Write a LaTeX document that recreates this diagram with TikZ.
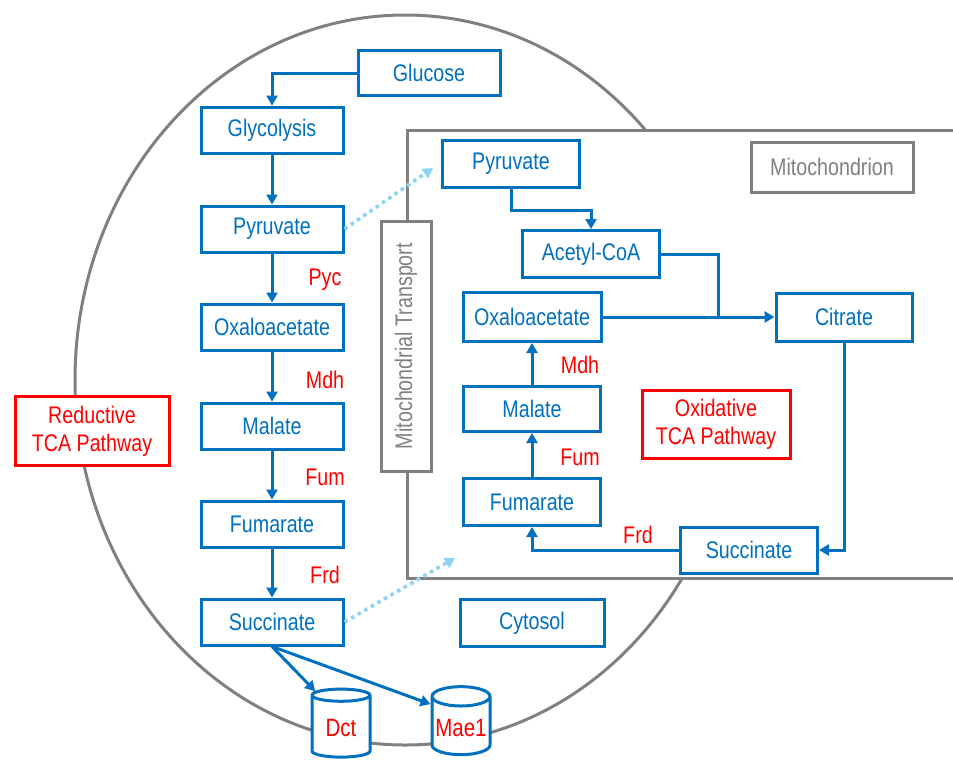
\documentclass[tikz,border=0pt]{standalone}
\usepackage{fontspec}
\setmainfont{Liberation Sans}[FakeStretch=0.82]
\usetikzlibrary{arrows.meta,shapes.geometric,calc}
\definecolor{flow}{HTML}{0070C0}
\definecolor{enz}{HTML}{FF0000}
\definecolor{wall}{HTML}{808080}
\definecolor{shuttle}{HTML}{8DD3F5}
\tikzset{
  base/.style={align=center, inner sep=2pt, font=\fontsize{12}{14}\selectfont, line width=1.5pt, fill=white},
  met/.style={base, draw=flow, text=flow},
  tag/.style={base, draw=enz, text=enz},
  comp/.style={base, draw=wall, text=wall},
  enzlab/.style={font=\fontsize{12}{14}\selectfont, text=enz},
  carrier/.style={cylinder, shape border rotate=90, aspect=0.35, draw=flow, fill=white, line width=1.5pt, text=enz, font=\fontsize{12.5}{14}\selectfont, minimum width=29pt, minimum height=34pt, inner sep=1pt},
  arr/.style={-{Triangle[length=5pt,width=5.5pt]}, line width=1.5pt, draw=flow},
  link/.style={line width=1.5pt, draw=flow},
  dots/.style={-{Triangle[length=5pt,width=5.5pt]}, line width=1.8pt, draw=shuttle, dash pattern=on 1.8pt off 2pt},
}
\begin{document}
\begin{tikzpicture}[x=0.5pt,y=-0.5pt]
        \useasboundingbox (0,0) rectangle (953,767);
        % cell and compartments
        \draw[wall, line width=1.5pt] (405,380) ellipse [x radius=330, y radius=365];
        \draw[wall, line width=1.5pt, fill=white] (965,130) -- (407,130) -- (407,578) -- (965,578);
        \node[comp, minimum width=25pt, minimum height=125pt] (trans) at (406,346) {};
        \node[text=wall, rotate=90, font=\fontsize{12}{14}\selectfont] (translab) at (trans.center) {Mitochondrial Transport};
        \node[comp, minimum width=81pt, minimum height=25pt] (mito) at (832,167) {Mitochondrion};
        % cytosol
        \node[met, minimum width=71pt, minimum height=22.5pt] (glc) at (429,73) {Glucose};
        \node[met, minimum width=71pt, minimum height=23pt] (gly) at (272,130) {Glycolysis};
        \node[met, minimum width=71pt, minimum height=23pt] (pyr) at (272,229) {Pyruvate};
        \node[met, minimum width=71pt, minimum height=23pt] (oaa) at (272,327) {Oxaloacetate};
        \node[met, minimum width=71pt, minimum height=23pt] (mal) at (272,426) {Malate};
        \node[met, minimum width=71pt, minimum height=23pt] (fum) at (272,524) {Fumarate};
        \node[met, minimum width=71pt, minimum height=23pt] (suc) at (272,622) {Succinate};
        \node[met, minimum width=72pt, minimum height=23.5pt] (cyto) at (532,623) {Cytosol};
        \node[tag, minimum width=77pt, minimum height=34.5pt] (redtca) at (92,431) {Reductive\\TCA Pathway};
        \node[carrier] (dct) at (341,728) {Dct};
        \node[carrier] (mae) at (461,728) {Mae1};
        \node[enzlab] (pyc) at (325,280) {Pyc};
        \node[enzlab] (mdh) at (325,380) {Mdh};
        \node[enzlab] (fumase) at (325,477) {Fum};
        \node[enzlab] (frd) at (325,575) {Frd};
        % mitochondrion
        \node[met, minimum width=68.5pt, minimum height=23.5pt] (mpyr) at (511,164) {Pyruvate};
        \node[met, minimum width=68.5pt, minimum height=23.5pt] (macc) at (591,254) {Acetyl-CoA};
        \node[met, minimum width=69pt, minimum height=24.5pt] (moaa) at (532,317) {Oxaloacetate};
        \node[met, minimum width=68pt, minimum height=24pt] (mcit) at (844,317) {Citrate};
        \node[met, minimum width=68.5pt, minimum height=22.5pt] (mmal) at (532,409) {Malate};
        \node[met, minimum width=68.5pt, minimum height=23.5pt] (mfum) at (532,502) {Fumarate};
        \node[met, minimum width=68.5pt, minimum height=23pt] (msuc) at (749,550) {Succinate};
        \node[tag, minimum width=74pt, minimum height=34pt] (oxtca) at (716,424) {Oxidative\\TCA Pathway};
        \node[enzlab] (mmdh) at (580,365) {Mdh};
        \node[enzlab] (mfumase) at (580,457) {Fum};
        \node[enzlab] (mfrd) at (638,535) {Frd};
        \coordinate (join) at (718,317);
        \coordinate (pyrin) at (433,168);
        \coordinate (sucin) at (455,558);
        % reductive branch
        \draw[arr] (glc.west) -| (gly.north);
        \draw[arr] (gly) -- (pyr);
        \draw[arr] (pyr) -- (oaa);
        \draw[arr] (oaa) -- (mal);
        \draw[arr] (mal) -- (fum);
        \draw[arr] (fum) -- (suc);
        \draw[arr] (suc.south) -- (dct.125);
        \draw[arr] (suc.south) -- (mae.142);
        \draw[dots] (pyr.east) -- (pyrin);
        \draw[dots] (suc.east) -- (sucin);
        % oxidative branch
        \draw[arr] (mpyr.south) -- ++(0,21) -| (macc.north);
        \draw[link] (macc.east) -| (join);
        \draw[arr] (moaa.east) -- (mcit.west);
        \draw[arr] (mcit.south) |- (msuc.east);
        \draw[arr] (msuc.west) -| (mfum.south);
        \draw[arr] (mfum) -- (mmal);
        \draw[arr] (mmal) -- (moaa);
      \end{tikzpicture}
\end{document}
